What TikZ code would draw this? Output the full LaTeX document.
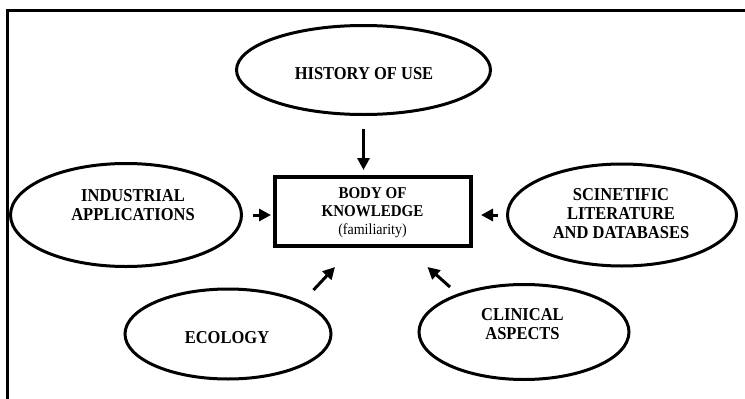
\documentclass[tikz,border=0pt]{standalone}
\usepackage{fontspec}
\setmainfont{Liberation Serif}
\usetikzlibrary{shapes.geometric,arrows.meta,calc}
\tikzset{
  ell/.style={ellipse, draw, line width=3pt, inner sep=0pt},
  etxt/.style={font=\bfseries\fontsize{16.5}{17.3}\selectfont, align=center, inner sep=0pt, transform shape, yscale=1.1},
  bodybox/.style={draw, line width=4pt, minimum width=196pt, minimum height=69pt, inner sep=0pt},
  btxt/.style={font=\bfseries\fontsize{15}{16.4}\selectfont, align=center, inner sep=0pt, transform shape, yscale=1.1},
  arr/.style={line width=3pt, -{Triangle[length=12pt,width=12pt]}},
  frameline/.style={line width=3pt}
}
\begin{document}
\begin{tikzpicture}[x=1pt,y=-1pt]
\useasboundingbox (0,0) rectangle (745,399);
\fill[white] (0,0) rectangle (745,399);
\draw[frameline] (7,401) -- (7,10.5) -- (747,10.5);

\node[ell, minimum width=254pt, minimum height=89pt] (hist) at (363.5,70) {};
\node[etxt] (histt) at ($(hist)+(0.5,4)$) {HISTORY OF USE};

\node[ell, minimum width=231pt, minimum height=103pt] (ind) at (126,215) {};
\node[etxt] (indt) at ($(ind)+(7,-10)$) {INDUSTRIAL\\APPLICATIONS};

\node[ell, minimum width=229pt, minimum height=102pt] (sci) at (622,215) {};
\node[etxt] (scit) at ($(sci)+(-1,-1)$) {SCINETIFIC\\LITERATURE\\AND DATABASES};

\node[ell, minimum width=206pt, minimum height=90pt] (eco) at (228,334) {};
\node[etxt] (ecot) at ($(eco)+(-1,4)$) {ECOLOGY};

\node[ell, minimum width=210pt, minimum height=95pt] (clin) at (524,332) {};
\node[etxt] (clint) at ($(clin)+(-1.5,-7.5)$) {CLINICAL\\ASPECTS};

\node[bodybox] (body) at (372.5,211) {};
\node[btxt] (bodyt) at ($(body)+(0,1.5)$) {BODY OF\\KNOWLEDGE\\{\mdseries\fontsize{14}{16.4}\selectfont (familiarity)}};

\draw[arr, shorten <=12.5pt, shorten >=4.5pt] (hist.south) -- (hist.south |- body.north);
\draw[arr, shorten <=9.5pt, shorten >=1.5pt] (ind.east) -- (ind.east -| body.west);
\draw[arr, shorten <=8.5pt, shorten >=8.5pt] (sci.west) -- (sci.west -| body.east);

\coordinate (e1) at (313.5,290);
\coordinate (e2) at (335,267);
\draw[arr] (e1) -- (e2);
\coordinate (c1) at (450,287);
\coordinate (c2) at (427.5,267);
\draw[arr] (c1) -- (c2);
\end{tikzpicture}
\end{document}
